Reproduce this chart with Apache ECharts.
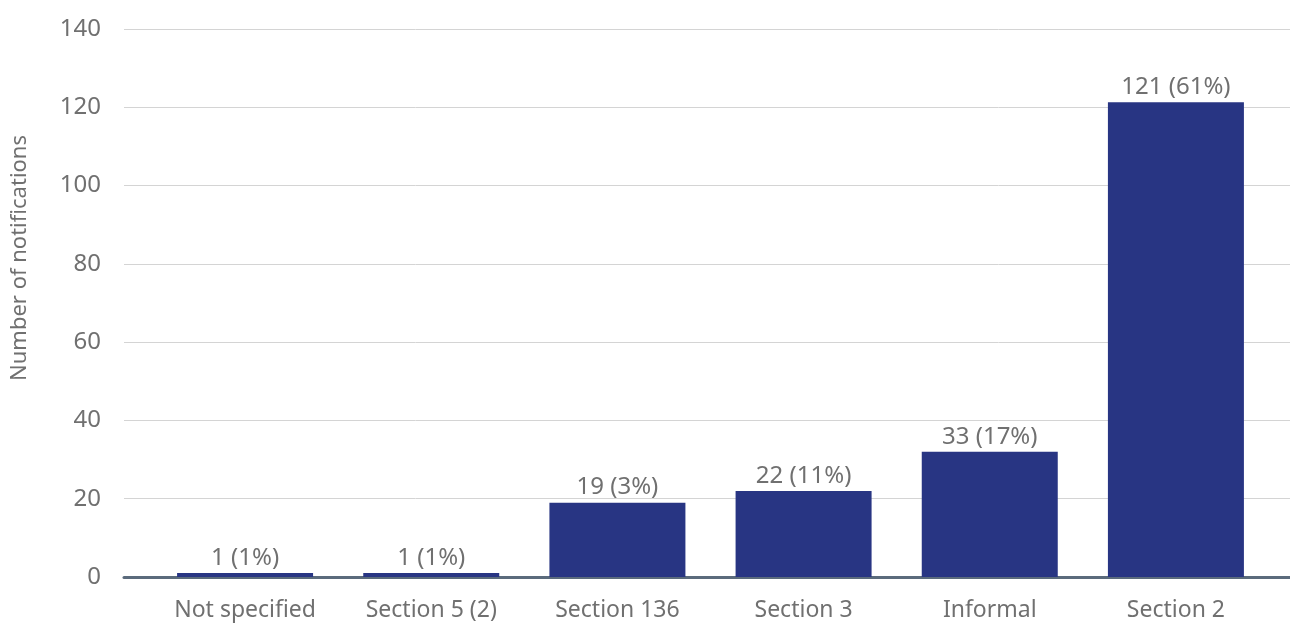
<!DOCTYPE html>
<html>
<head>
<meta charset="utf-8">
<script src="https://cdn.jsdelivr.net/npm/echarts@6/dist/echarts.min.js"></script>
<style>
html,body{margin:0;padding:0;background:#fff;}
#c{width:1290px;height:623px;}
</style>
</head>
<body>
<div id="c"></div>
<script>
const categories = ["Not specified", "Section 5 (2)", "Section 136", "Section 3", "Informal", "Section 2"];
const values = [1, 1, 19, 22, 32, 121.3];
const labelTexts = ["1 (1%)", "1 (1%)", "19 (3%)", "22 (11%)", "33 (17%)", "121 (61%)"];
const yTicks = [0, 20, 40, 60, 80, 100, 120, 140];

const FONT = "'Noto Sans', 'Open Sans', sans-serif";
const TXT = '#707070';
const chart = echarts.init(document.getElementById('c'), null, {renderer: 'canvas'});
chart.setOption({
  animation: false,
  backgroundColor: '#fff',
  grid: [
    {left: 124, right: 0, top: 29, bottom: 46},
    {left: 152, right: 21, top: 29, bottom: 46}
  ],
  xAxis: [
    {gridIndex: 0, type: 'category', data: [''], axisLine: {show: true, lineStyle: {color: '#5b6b7c', width: 3}},
     axisTick: {show: false}, axisLabel: {show: false}},
    {gridIndex: 1, type: 'category', data: categories, axisLine: {show: false}, axisTick: {show: false},
     axisLabel: {color: TXT, fontSize: 23, fontFamily: FONT, margin: 22}}
  ],
  yAxis: [
    {gridIndex: 0, type: 'value', min: yTicks[0], max: yTicks[yTicks.length - 1], interval: 20,
     axisLine: {show: false}, axisTick: {show: false},
     axisLabel: {color: TXT, fontSize: 24, fontFamily: FONT, margin: 23},
     splitLine: {lineStyle: {color: '#d4d4d4', width: 1}}},
    {gridIndex: 1, type: 'value', min: yTicks[0], max: yTicks[yTicks.length - 1], interval: 20,
     axisLine: {show: false}, axisTick: {show: false}, axisLabel: {show: false}, splitLine: {show: false}}
  ],
  series: [{
    type: 'bar',
    xAxisIndex: 1, yAxisIndex: 1,
    data: values,
    barWidth: 136,
    itemStyle: {color: '#283583'},
    label: {
      show: true, position: 'top', distance: 3,
      color: TXT, fontSize: 24, fontFamily: FONT,
      formatter: p => labelTexts[p.dataIndex]
    }
  }],
  graphic: [{
    type: 'text',
    left: 9, top: 135,
    rotation: Math.PI / 2,
    style: {text: 'Number of notifications', fill: TXT, font: "22px " + FONT}
  }]
});
</script>
</body>
</html>
